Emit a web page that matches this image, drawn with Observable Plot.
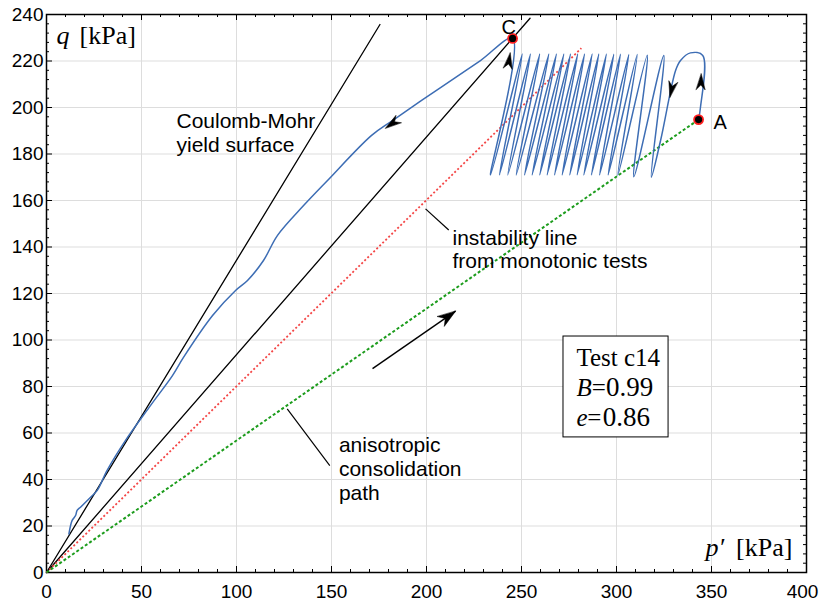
<!DOCTYPE html>
<html><head><meta charset="utf-8">
<script src="https://cdn.jsdelivr.net/npm/d3@7"></script>
<script src="https://cdn.jsdelivr.net/npm/@observablehq/plot@0.6"></script>
<style>body{margin:0;background:#fff} svg{display:block}</style>
</head><body><div id="chart"></div>
<script>
// ---- data (p' , q in kPa) ----
const xMajor = [0, 50, 100, 150, 200, 250, 300, 350, 400];
const yMajor = [0, 20, 40, 60, 80, 100, 120, 140, 160, 180, 200, 220, 240];
const xMinor = d3.range(0, 401, 10);
const yMinor = d3.range(0, 241, 4);

const coulombMohr = [[0, 0], [175.5, 235.7]];
const lineThroughC = [[0, 0], [254.5, 238.4]];
const instabilityLine = [[0, 0], [281.5, 225.5]];
const consolidationPath = [[0, 0], [343.2, 194.8]];

const pointA = [343.2, 194.8];
const pointC = [245.3, 229.7];

const aArc = [[343.2, 194.8], [344.2, 200.1], [345.4, 222.4], [338.9, 223.5], [333.7, 220.2], [331.1, 215.9], [323.2, 185.8]];
const bottomsP = [318.3, 309.1, 300.7, 295.6, 291.1, 286.8, 282.8, 279.3, 275.4, 271.4, 267.4, 263.5, 259.6, 255.6, 251.6, 247.2, 242.8, 238.4, 233.7];
const bottomsQ = [170, 170.2, 170.8, 171, 171, 171, 171, 171, 171, 171, 171, 171, 171, 171, 171, 171, 171, 171, 171];
const topsP = [324.9, 316.2, 310.9, 306.5, 302.1, 298.6, 294.7, 290.7, 287.2, 283.2, 279.6, 275.8, 272.3, 268.4, 264.4, 259.6, 254.7, 250.4];
const topsQ = [222.4, 222.5, 222.8, 222.8, 222.9, 222.9, 223, 223, 223, 223, 223, 223, 223, 223, 223, 223, 223, 223];
const postC = [[245.3, 229.7], [228.4, 220.2], [207.4, 208.6], [182.1, 194.4], [171.1, 188], [147.9, 168.6], [135.3, 157.8], [121.6, 145], [114.2, 134.2], [105.8, 125.6], [99.5, 121.3], [87.4, 110.5], [72.1, 92.5], [66.3, 84.7], [54.7, 71.8], [41.6, 56.8], [31.9, 43.9], [26.7, 35.3], [23.2, 32.4], [17.9, 28.1], [16.1, 26.7], [15.3, 24.5], [13.5, 22.4], [11.8, 16.6]];

// arrowheads on the stress path: tip position and screen direction (deg)
const pathArrows = [[178.4, 191.1, 235], [244.1, 223.5, 9], [344.6, 214.5, 2], [328.1, 204.4, 192]];
const bigArrow = {tail: [171.6, 87.7], tip: [215.3, 112.4], rot: 55};
const leaders = [[[199.5, 156.4], [211.7, 147.3]], [[126.7, 70.4], [149.1, 46.0]]];

// ---- build the stress path ----
const stressPath = [...aArc];
bottomsP.forEach((p, i) => {
  stressPath.push([p, bottomsQ[i]]);
  if (i < topsP.length) stressPath.push([topsP[i], topsQ[i]]);
});
stressPath.push(...postC);

// ---- layout ----
const W = 819, H = 602, mL = 46, mR = 13, mT = 14, mB = 30;
const xk = (W - mL - mR) / 400, yk = (H - mT - mB) / 240;
const tl = d => (d % 50 === 0 ? 6 : 3);
const tlY = d => (d % 20 === 0 ? 6 : 3);

const dart = (len, hw) => ({
  draw(ctx) {
    ctx.moveTo(0, -len);
    ctx.lineTo(hw, 0);
    ctx.lineTo(0, -len * 0.3);
    ctx.lineTo(-hw, 0);
    ctx.closePath();
  }
});

const sans = "Liberation Sans, Arial, sans-serif";
const serif = "Liberation Serif, Times New Roman, serif";
const P = d => d[0], Q = d => d[1];
const txt = (s, x, y, o = {}) => Plot.text([s], {x, y, text: d => d, textAnchor: "start", lineAnchor: "bottom", ...o});

const chart = Plot.plot({
  width: W, height: H,
  marginLeft: mL, marginRight: mR, marginTop: mT, marginBottom: mB,
  x: {domain: [0, 400], label: null},
  y: {domain: [0, 240], label: null},
  style: {background: "white", color: "black", fontFamily: sans, overflow: "visible"},
  marks: [
    Plot.ruleX(xMajor.slice(1, -1), {stroke: "#dddddd", strokeWidth: 1}),
    Plot.ruleY(yMajor.slice(1, -1), {stroke: "#dddddd", strokeWidth: 1}),
    // inward ticks on all four sides
    Plot.ruleX(xMinor, {x: d => d, y1: 0, y2: d => tl(d) / yk, stroke: "black", strokeWidth: 1}),
    Plot.ruleX(xMinor, {x: d => d, y1: 240, y2: d => 240 - tl(d) / yk, stroke: "black", strokeWidth: 1}),
    Plot.ruleY(yMinor, {y: d => d, x1: 0, x2: d => tlY(d) / xk, stroke: "black", strokeWidth: 1}),
    Plot.ruleY(yMinor, {y: d => d, x1: 400, x2: d => 400 - tlY(d) / xk, stroke: "black", strokeWidth: 1}),
    Plot.axisX({ticks: xMajor, tickSize: 0, tickPadding: 12, fontSize: 19, fontFamily: sans}),
    Plot.axisY({ticks: yMajor, tickSize: 0, tickPadding: 3, fontSize: 19, fontFamily: sans}),
    Plot.frame({stroke: "black", strokeWidth: 1.5}),

    Plot.line(coulombMohr, {x: P, y: Q, stroke: "black", strokeWidth: 1.3}),
    Plot.line(lineThroughC, {x: P, y: Q, stroke: "black", strokeWidth: 1.3}),
    Plot.line(instabilityLine, {x: P, y: Q, stroke: "#f44646", strokeWidth: 1.8, strokeDasharray: "2,2.2", strokeLinecap: "butt"}),
    Plot.line(consolidationPath, {x: P, y: Q, stroke: "#1c9c1c", strokeWidth: 2, strokeDasharray: "3,2.2", strokeLinecap: "butt"}),

    Plot.line(stressPath, {x: P, y: Q, stroke: "#3d6db4", strokeWidth: 1.5, curve: "catmull-rom"}),
    Plot.vector(pathArrows, {x: P, y: Q, rotate: d => d[2], anchor: "end", length: 16, shape: dart(16, 4.5), fill: "black", stroke: "black", strokeWidth: 0.5}),

    Plot.link(leaders, {x1: d => d[0][0], y1: d => d[0][1], x2: d => d[1][0], y2: d => d[1][1], stroke: "black", strokeWidth: 1.2}),
    Plot.link([bigArrow], {x1: d => d.tail[0], y1: d => d.tail[1], x2: d => d.tip[0], y2: d => d.tip[1], stroke: "black", strokeWidth: 1.4}),
    Plot.vector([bigArrow], {x: d => d.tip[0], y: d => d.tip[1], rotate: d => d.rot, anchor: "end", length: 18, shape: dart(18, 6), fill: "black", stroke: "black", strokeWidth: 0.5}),

    Plot.dot([pointA, pointC], {x: P, y: Q, r: 4.5, fill: "black", stroke: "#ff1e1e", strokeWidth: 1.8}),
    txt("C", 239.5, 231.4, {fontSize: 20, fontFamily: sans}),
    txt("A", 351.1, 190.8, {fontSize: 20, fontFamily: sans}),

    Plot.text(["Coulomb-Mohr\nyield surface"], {x: 68.4, y: 198.7, text: d => d, textAnchor: "start", lineAnchor: "top", lineHeight: 1.15, fontSize: 21, fontFamily: sans}),
    Plot.text(["instability line\nfrom monotonic tests"], {x: 213.7, y: 148.0, text: d => d, textAnchor: "start", lineAnchor: "top", lineHeight: 1.1, fontSize: 21, fontFamily: sans}),
    Plot.text(["anisotropic\nconsolidation\npath"], {x: 153.9, y: 59.4, text: d => d, textAnchor: "start", lineAnchor: "top", lineHeight: 1.15, fontSize: 21, fontFamily: sans}),

    Plot.rect([{x1: 272.1, x2: 327.4, y1: 58.1, y2: 101.5}], {x1: "x1", x2: "x2", y1: "y1", y2: "y2", fill: "white", stroke: "black", strokeWidth: 1}),
    txt("Test c14", 278.9, 89.0, {fontSize: 25, fontFamily: serif}),
    txt("B", 278.9, 75.7, {fontSize: 25, fontFamily: serif, fontStyle: "italic"}),
    txt("=", 287.0, 75.7, {fontSize: 25, fontFamily: serif}),
    txt("0.99", 294.5, 75.7, {fontSize: 27, fontFamily: serif}),
    txt("e", 278.9, 62.8, {fontSize: 25, fontFamily: serif, fontStyle: "italic"}),
    txt("=", 284.6, 62.8, {fontSize: 25, fontFamily: serif}),
    txt("0.86", 292.8, 62.8, {fontSize: 27, fontFamily: serif}),

    txt("q", 5.3, 227.5, {fontSize: 26, fontFamily: serif, fontStyle: "italic"}),
    txt("[kPa]", 17.4, 227.5, {fontSize: 26, fontFamily: serif}),
    txt("p\u2032", 346.8, 7.3, {fontSize: 26, fontFamily: serif, fontStyle: "italic"}),
    txt("[kPa]", 392.6, 7.3, {fontSize: 26, fontFamily: serif, textAnchor: "end"})
  ]
});
// keep the last x tick label inside the window
d3.select(chart).selectAll("[aria-label='x-axis tick label'] text")
  .filter(function () { return this.textContent === "400"; })
  .attr("dx", -4);
document.getElementById("chart").appendChild(chart);
</script></body></html>
